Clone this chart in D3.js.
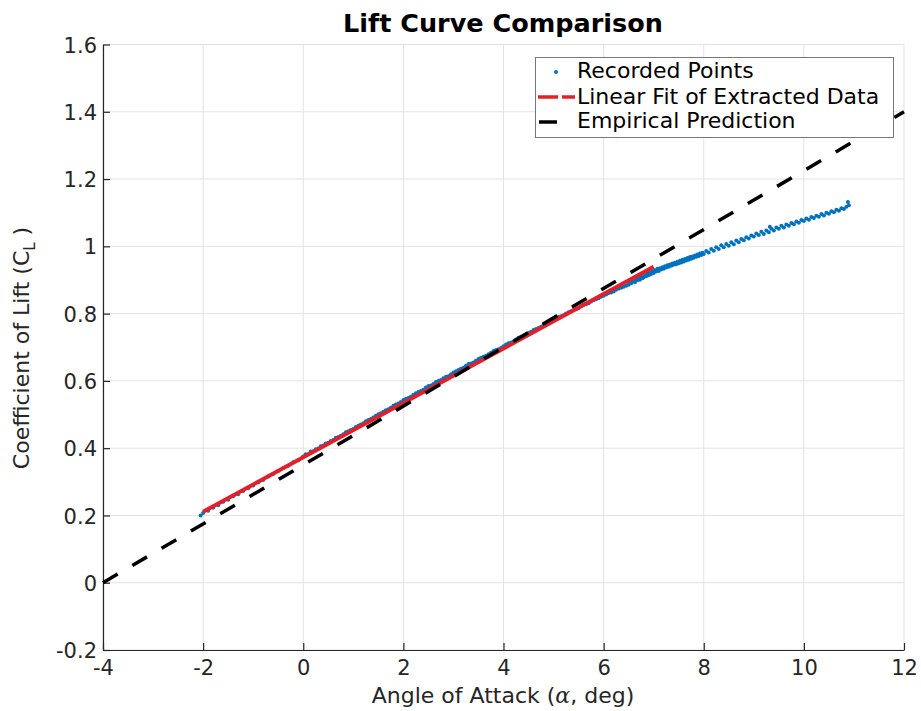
<!DOCTYPE html>
<html>
<head>
<meta charset="utf-8">
<script src="https://cdn.jsdelivr.net/npm/d3@7"></script>
<style>
  body { margin: 0; background: #fff; }
  svg { display: block; font-family: "DejaVu Sans", sans-serif; }
</style>
</head>
<body>
<svg id="chart" width="921" height="711"></svg>
<script>
// recorded (alpha, CL) points
const recordedPoints = [
  [-2.05, 0.200], [-2.0, 0.207], [-1.9, 0.214], [-1.8, 0.223], [-1.7, 0.230], [-1.6, 0.241],
  [-1.5, 0.247], [-1.4, 0.257], [-1.3, 0.263], [-1.2, 0.273], [-1.1, 0.281], [-1.0, 0.289],
  [-0.9, 0.299], [-0.8, 0.305], [-0.7, 0.316], [-0.6, 0.323], [-0.5, 0.332], [-0.4, 0.341],
  [-0.3, 0.348], [-0.2, 0.358], [-0.1, 0.364], [0.0, 0.375], [0.1, 0.382], [0.2, 0.391],
  [0.3, 0.399], [0.4, 0.408], [0.5, 0.416], [0.6, 0.424], [0.7, 0.433], [0.8, 0.441],
  [0.9, 0.450], [1.0, 0.457], [1.1, 0.467], [1.2, 0.474], [1.3, 0.484], [1.4, 0.491],
  [1.5, 0.501], [1.6, 0.508], [1.7, 0.516], [1.8, 0.526], [1.9, 0.533], [2.0, 0.543],
  [2.1, 0.549], [2.2, 0.559], [2.3, 0.567], [2.4, 0.574], [2.5, 0.585], [2.6, 0.591],
  [2.7, 0.600], [2.8, 0.608], [2.9, 0.614], [3.0, 0.625], [3.1, 0.632], [3.2, 0.639],
  [3.3, 0.650], [3.4, 0.655], [3.5, 0.665], [3.6, 0.672], [3.7, 0.679], [3.8, 0.689],
  [3.9, 0.694], [4.0, 0.703], [4.1, 0.712], [4.2, 0.717], [4.3, 0.728], [4.4, 0.734],
  [4.5, 0.742], [4.6, 0.751], [4.7, 0.757], [4.8, 0.766], [4.9, 0.773], [5.0, 0.780],
  [5.1, 0.790], [5.2, 0.795], [5.3, 0.804], [5.4, 0.810], [5.5, 0.817], [5.6, 0.826],
  [5.7, 0.831], [5.8, 0.840], [5.9, 0.846], [6.0, 0.853], [6.1, 0.861], [6.2, 0.866],
  [6.3, 0.875], [6.4, 0.880],
  [0.05, 0.382], [0.15, 0.390], [0.25, 0.397], [0.35, 0.406], [0.45, 0.414], [0.55, 0.421],
  [0.65, 0.431], [0.75, 0.437], [0.85, 0.447], [0.95, 0.454], [1.05, 0.463], [1.15, 0.470],
  [1.25, 0.480], [1.35, 0.487], [1.45, 0.496], [1.55, 0.504], [1.65, 0.513], [1.75, 0.520],
  [1.85, 0.530], [1.95, 0.537], [2.05, 0.547], [2.15, 0.553], [2.25, 0.563], [2.35, 0.570],
  [2.45, 0.580], [2.55, 0.586], [2.65, 0.597], [2.75, 0.603], [2.85, 0.612], [2.95, 0.620],
  [3.05, 0.629], [3.15, 0.636], [3.25, 0.645], [3.35, 0.652], [3.45, 0.660], [3.55, 0.669],
  [3.65, 0.675], [3.75, 0.684], [3.85, 0.692], [3.95, 0.698], [4.05, 0.708], [4.15, 0.714],
  [4.25, 0.723], [4.35, 0.731], [4.45, 0.738], [4.55, 0.746], [4.65, 0.754], [4.75, 0.761],
  [4.85, 0.769], [4.95, 0.777], [5.05, 0.785], [5.15, 0.792], [5.25, 0.800], [5.35, 0.807],
  [5.45, 0.813], [5.55, 0.822], [5.65, 0.828], [5.75, 0.836], [5.85, 0.843], [5.95, 0.850],
  [6.05, 0.857], [6.15, 0.863], [6.25, 0.871], [6.35, 0.877], [6.45, 0.883],
  [6.5, 0.886], [6.525, 0.893], [6.55, 0.890], [6.575, 0.897], [6.6, 0.898], [6.625, 0.893],
  [6.65, 0.903], [6.675, 0.899], [6.7, 0.906], [6.725, 0.901], [6.75, 0.910], [6.775, 0.905],
  [6.8, 0.908], [6.825, 0.915], [6.85, 0.911], [6.875, 0.919], [6.9, 0.914], [6.925, 0.922],
  [6.95, 0.918], [6.975, 0.926], [7.0, 0.921], [7.025, 0.929], [7.05, 0.925], [7.075, 0.933],
  [7.1, 0.927], [7.125, 0.935], [7.15, 0.931], [7.175, 0.938], [7.2, 0.933], [7.225, 0.941],
  [7.25, 0.937], [7.275, 0.944], [7.3, 0.939], [7.325, 0.946], [7.35, 0.942], [7.375, 0.949],
  [7.4, 0.945], [7.425, 0.951], [7.45, 0.947], [7.475, 0.954], [7.5, 0.950], [7.525, 0.957],
  [7.55, 0.952], [7.575, 0.960], [7.6, 0.955], [7.625, 0.962], [7.65, 0.958], [7.675, 0.965],
  [7.7, 0.960], [7.725, 0.968], [7.75, 0.963], [7.775, 0.970], [7.8, 0.966], [7.825, 0.973],
  [7.85, 0.969], [7.875, 0.976], [7.9, 0.971], [7.925, 0.979], [7.95, 0.974], [7.975, 0.981],
  [8.0, 0.977], [8.05, 0.986], [8.1, 0.982], [8.15, 0.992], [8.2, 0.987], [8.25, 0.997],
  [8.3, 0.992], [8.35, 1.003], [8.4, 0.997], [8.45, 1.007], [8.5, 1.002], [8.55, 1.012],
  [8.6, 1.006], [8.65, 1.017], [8.7, 1.012], [8.75, 1.022], [8.8, 1.018], [8.85, 1.027],
  [8.9, 1.023], [8.95, 1.032], [9.0, 1.029], [9.05, 1.038], [9.1, 1.034], [9.15, 1.043],
  [9.2, 1.037], [9.25, 1.047], [9.3, 1.042], [9.32, 1.058], [9.35, 1.052], [9.4, 1.047],
  [9.45, 1.056], [9.5, 1.052], [9.55, 1.061], [9.6, 1.056], [9.65, 1.065], [9.7, 1.061],
  [9.75, 1.069], [9.8, 1.066], [9.85, 1.074], [9.9, 1.070], [9.95, 1.078], [10.0, 1.075],
  [10.05, 1.083], [10.1, 1.079], [10.15, 1.087], [10.2, 1.084], [10.25, 1.091], [10.3, 1.088],
  [10.35, 1.096], [10.4, 1.092], [10.45, 1.100], [10.5, 1.097], [10.55, 1.104], [10.6, 1.101],
  [10.65, 1.109], [10.7, 1.106], [10.75, 1.113], [10.8, 1.111], [10.85, 1.118], [10.9, 1.122],
  [10.88, 1.132]
];
const linearFit = [[-2, 0.211], [7, 0.939]];
const empirical = [[-4, 0.0], [12, 1.40]];

const xTicks = [-4, -2, 0, 2, 4, 6, 8, 10, 12];
const yTicks = [-0.2, 0, 0.2, 0.4, 0.6, 0.8, 1, 1.2, 1.4, 1.6];
const legendItems = ["Recorded Points", "Linear Fit of Extracted Data", "Empirical Prediction"];

const svg = d3.select("#chart");
const plotLeft = 103, plotRight = 904, plotTop = 44.5, plotBottom = 650;

const x = d3.scaleLinear().domain([-4, 12]).range([plotLeft, plotRight]);
const y = d3.scaleLinear().domain([-0.2, 1.6]).range([plotBottom, plotTop]);

const axisColor = "#262626";

// grid
svg.append("g").selectAll("line").data(xTicks).join("line")
  .attr("x1", d => x(d)).attr("x2", d => x(d))
  .attr("y1", plotTop).attr("y2", plotBottom)
  .attr("stroke", "#e3e3e3").attr("stroke-width", 1);
svg.append("g").selectAll("line").data(yTicks).join("line")
  .attr("x1", plotLeft).attr("x2", plotRight)
  .attr("y1", d => y(d)).attr("y2", d => y(d))
  .attr("stroke", "#e3e3e3").attr("stroke-width", 1);

// axes (ticks point inward)
const fmt = d => String(+d.toFixed(1));
const xAxis = svg.append("g").attr("transform", `translate(0,${plotBottom})`)
  .call(d3.axisBottom(x).tickValues(xTicks).tickSizeInner(-7).tickSizeOuter(0).tickFormat(fmt));
const yAxis = svg.append("g").attr("transform", `translate(${plotLeft},0)`)
  .call(d3.axisLeft(y).tickValues(yTicks).tickSizeInner(-7).tickSizeOuter(0).tickFormat(fmt));

[xAxis, yAxis].forEach(a => {
  a.select(".domain").attr("stroke", axisColor).attr("stroke-width", 1.2);
  a.selectAll(".tick line").attr("stroke", axisColor).attr("stroke-width", 1.2);
  a.selectAll(".tick text").attr("fill", axisColor)
    .style("font-family", "DejaVu Sans").style("font-size", "21px");
});
xAxis.selectAll(".tick text").attr("y", 10).attr("dy", "0.71em");
yAxis.selectAll(".tick text").attr("x", -6).attr("dy", "0.36em");

// data
const line = d3.line().x(d => x(d[0])).y(d => y(d[1]));

svg.append("g").selectAll("circle").data(recordedPoints).join("circle")
  .attr("cx", d => x(d[0])).attr("cy", d => y(d[1]))
  .attr("r", 2).attr("fill", "#0072BD");

svg.append("path").datum(linearFit).attr("d", line)
  .attr("fill", "none").attr("stroke", "#e3202a").attr("stroke-width", 4);

svg.append("path").datum(empirical).attr("d", line)
  .attr("fill", "none").attr("stroke", "#000").attr("stroke-width", 3.5)
  .attr("stroke-dasharray", "17,17");

// title and labels
svg.append("text").attr("x", 503).attr("y", 32).attr("text-anchor", "middle")
  .style("font-family", "DejaVu Sans").style("font-weight", "bold").style("font-size", "25.5px")
  .attr("fill", "#000").text("Lift Curve Comparison");

const xl = svg.append("text").attr("x", 503).attr("y", 703).attr("text-anchor", "middle")
  .style("font-size", "22px").attr("fill", axisColor);
xl.append("tspan").text("Angle of Attack (");
xl.append("tspan").style("font-family", "DejaVu Serif").style("font-style", "italic").text("α");
xl.append("tspan").text(", deg)");

const yl = svg.append("text").attr("transform", "translate(29,348) rotate(-90)")
  .attr("text-anchor", "middle").style("font-size", "22px").attr("fill", axisColor);
yl.append("tspan").text("Coefficient of Lift (C");
yl.append("tspan").attr("dy", 6).style("font-size", "15px").text("L");
yl.append("tspan").attr("dy", -6).text(" )");

// legend
const lg = svg.append("g");
lg.append("rect").attr("x", 535.5).attr("y", 57.5).attr("width", 358).attr("height", 80)
  .attr("fill", "#fff").attr("stroke", "#777").attr("stroke-width", 1);
const rowY = [70, 96, 120];
lg.append("circle").attr("cx", 556).attr("cy", rowY[0] + 2).attr("r", 2).attr("fill", "#0072BD");
lg.append("line").attr("x1", 538).attr("x2", 575).attr("y1", rowY[1] + 1).attr("y2", rowY[1] + 1)
  .attr("stroke", "#e3202a").attr("stroke-width", 3.5).attr("stroke-dasharray", "20,4,13");
lg.append("line").attr("x1", 539).attr("x2", 557).attr("y1", rowY[2] + 2).attr("y2", rowY[2] + 2)
  .attr("stroke", "#000").attr("stroke-width", 3.5);
lg.selectAll("text.lab").data(legendItems).join("text").attr("class", "lab")
  .attr("x", 577).attr("y", (d, i) => rowY[i]).attr("dy", "0.36em")
  .style("font-size", "22px").attr("fill", "#000").text(d => d);
</script>
</body>
</html>
